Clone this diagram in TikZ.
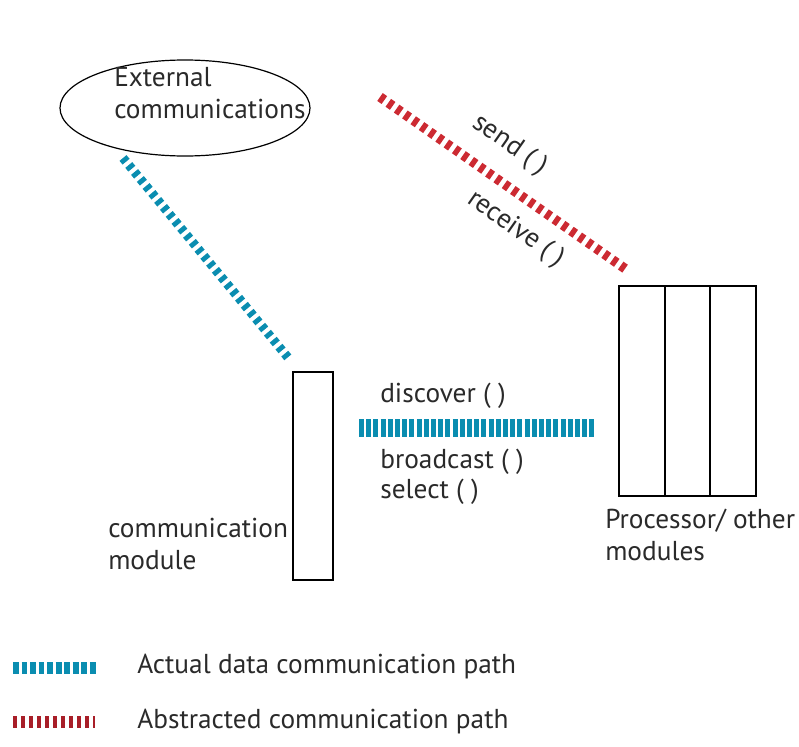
\documentclass[tikz,border=0pt]{standalone}
\usepackage{fontspec}
\setmainfont{PT Sans}
\usetikzlibrary{shapes.geometric}
\definecolor{datablue}{HTML}{0A8DB0}
\definecolor{absred}{HTML}{CC2A32}
\definecolor{legred}{HTML}{A81E28}
\definecolor{txt}{HTML}{2A2A2A}
\tikzset{
  lbl/.style={text=txt, font=\fontsize{20.5pt}{23.5pt}\selectfont, inner sep=0pt},
  box/.style={draw=black, line width=0.9pt, inner sep=0pt},
  actualpath/.style={draw=datablue, line width=6.8pt, dash pattern=on 3.6pt off 3.2pt},
  abstractpath/.style={draw=absred, line width=7.2pt, dash pattern=on 4pt off 3.6pt},
}
\begin{document}
\begin{tikzpicture}[x=0.75pt,y=-0.75pt]
\useasboundingbox (0,0) rectangle (799,746);

% external communications
\node[ellipse, draw=black, line width=0.9pt, minimum width=187.5pt, minimum height=72pt, inner sep=0pt] (ext) at (185,108) {};
\node[lbl, align=left, anchor=west] (extlbl) at (114,93) {External\\communications};

% communication module
\node[box, minimum width=30pt, minimum height=156pt] (cm) at (313,476) {};
\node[lbl, align=left, anchor=west] (cmlbl) at (108,544) {communication\\module};

% processor / other modules
\node[box, minimum width=102.75pt, minimum height=157.5pt] (proc) at (687.5,391) {};
\draw[line width=0.9pt] (665,286) -- (665,496) (710,286) -- (710,496);
\node[lbl, align=left, anchor=west] (proclbl) at (605,535) {Processor/ other\\modules};

% path endpoints
\coordinate (b1) at (123,158);
\coordinate (b2) at (290,360);
\coordinate (r1) at (380,97);
\coordinate (r2) at (627,270);
\coordinate (h1) at (359,428);
\coordinate (h2) at (596,428);

\draw[actualpath] (b1) -- (b2);
\draw[abstractpath] (r1) -- (r2);
\draw[draw=datablue, line width=13pt, dash pattern=on 3.8pt off 1.6pt] (h1) -- (h2);

% interface calls
\node[lbl, rotate=-35] (send) at (510,145) {send ( )};
\node[lbl, rotate=-35] (recv) at (516,229) {receive ( )};
\node[lbl, anchor=west] (disc) at (380,396) {discover ( )};
\node[lbl, anchor=west] (bcast) at (380,462) {broadcast ( )};
\node[lbl, anchor=west] (sel) at (380,492) {select ( )};

% legend
\coordinate (la1) at (13,668);
\coordinate (la2) at (98,668);
\coordinate (lr1) at (13,722);
\coordinate (lr2) at (95,722);
\draw[draw=datablue, line width=9pt, dash pattern=on 4.4pt off 2pt] (la1) -- (la2);
\draw[draw=legred, line width=9pt, dash pattern=on 3pt off 3pt] (lr1) -- (lr2);
\node[lbl, anchor=west] (la) at (137,667) {Actual data communication path};
\node[lbl, anchor=west] (lr) at (137,722) {Abstracted communication path};
\end{tikzpicture}
\end{document}
